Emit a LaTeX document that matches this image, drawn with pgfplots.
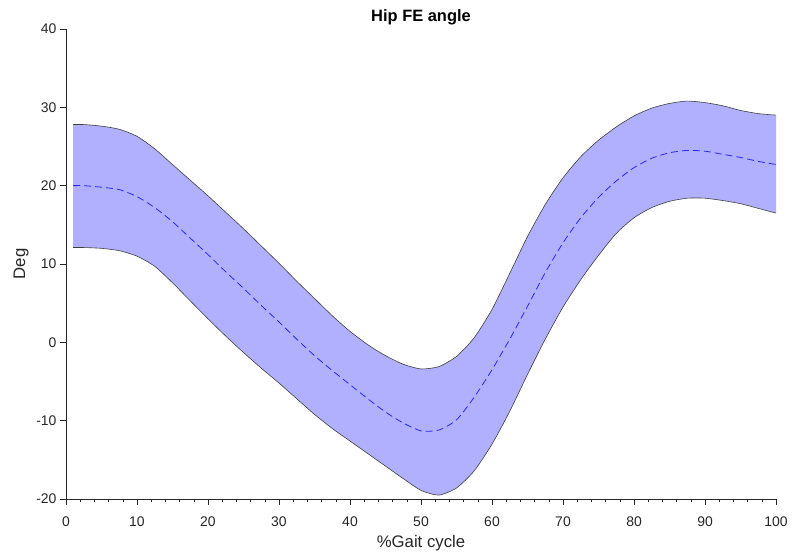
\documentclass[border=0pt]{standalone}
\usepackage{fontspec}
\setmainfont{Liberation Sans}
\usepackage{pgfplots}
\usepackage{pgfplotstable}
\pgfplotsset{compat=1.18}
\usepgfplotslibrary{fillbetween}
\definecolor{bandfill}{RGB}{176,176,255}
\definecolor{meanblue}{RGB}{40,40,240}
\definecolor{axgray}{RGB}{38,38,38}

% x, upper (mean+sd), mean, lower (mean-sd)
\pgfplotstableread{
x     u      m      l
1     27.8   20.0   12.1
2.5   27.8   20.0   12.1
5     27.6   19.8   12.0
7.5   27.2   19.5   11.7
10    26.3   18.6   11.0
12.5  24.7   17.2   9.7
15    22.7   15.4   7.6
17.5  20.7   13.3   5.3
20    18.7   11.2   3.0
22.5  16.6   9.0    0.8
25    14.5   6.9    -1.3
27.5  12.3   4.7    -3.3
30    10.1   2.6    -5.2
32.5  7.8    0.4    -7.2
35    5.6    -1.7   -9.2
37.5  3.4    -3.6   -11.0
40    1.4    -5.4   -12.6
42.5  -0.3   -7.2   -14.2
45    -1.7   -8.9   -15.8
47.5  -2.8   -10.3  -17.4
50    -3.4   -11.3  -18.9
52.5  -3.1   -11.2  -19.5
55    -1.8   -9.9   -18.6
57.5  0.6    -7.0   -16.4
60    4.2    -3.5   -13.0
62.5  8.8    0.4    -8.8
65    13.5   4.6    -4.1
67.5  17.6   8.9    0.4
70    21.0   12.7   4.5
72.5  23.7   15.9   8.0
75    25.8   18.5   11.1
77.5  27.5   20.6   13.9
80    28.9   22.3   15.9
82.5  29.9   23.5   17.2
85    30.5   24.2   18.0
87.5  30.8   24.5   18.4
90    30.6   24.4   18.4
92.5  30.2   24.0   18.1
95    29.6   23.6   17.7
97.5  29.2   23.1   17.1
100   29.0   22.7   16.5
}\hipdata

\begin{document}
\begin{tikzpicture}
\begin{axis}[
    scale only axis,
    width=710bp, height=470bp,
    xmin=0, xmax=100, ymin=-20, ymax=40,
    xtick={0,10,...,100}, ytick={-20,-10,...,40},
    minor x tick num=4,
    axis lines*=left,
    axis line style={-, axgray, line width=0.6bp},
    tick align=outside,
    xtick pos=left, ytick pos=left,
    major tick length=6bp, minor tick length=3bp,
    every tick/.style={axgray, line width=0.6bp},
    tick label style={font=\fontsize{14}{16}\selectfont, text=axgray},
    xticklabel style={yshift=-8bp},
    /pgf/number format/assume math mode=true,
    xlabel={\%Gait cycle}, ylabel={Deg},
    label style={font=\fontsize{16.8}{19}\selectfont, text=axgray, inner sep=0pt},
    xlabel style={at={(axis description cs:0.5,-0.0936)}, anchor=center},
    ylabel style={at={(axis description cs:-0.0634,0.5)}, anchor=center},
    title={\textbf{Hip FE angle}},
    title style={font=\fontsize{16.5}{19}\selectfont, inner sep=0pt,
      at={(axis description cs:0.5,1.0243)}, anchor=center, yshift=-6pt},
]
\addplot[name path=U, draw=none, smooth, tension=0.4] table[x=x, y=u] {\hipdata};
\addplot[name path=L, draw=none, smooth, tension=0.4] table[x=x, y=l] {\hipdata};
\addplot[bandfill, draw=none] fill between[of=U and L];
\addplot[black!75, line width=0.6bp, smooth, tension=0.4] table[x=x, y=u] {\hipdata};
\addplot[black!75, line width=0.6bp, smooth, tension=0.4] table[x=x, y=l] {\hipdata};
\addplot[meanblue, line width=0.8bp, dash pattern=on 7bp off 4bp, smooth, tension=0.4] table[x=x, y=m] {\hipdata};
\end{axis}
\path (-66bp,-56bp) rectangle (728bp,499bp);
\end{tikzpicture}
\end{document}
